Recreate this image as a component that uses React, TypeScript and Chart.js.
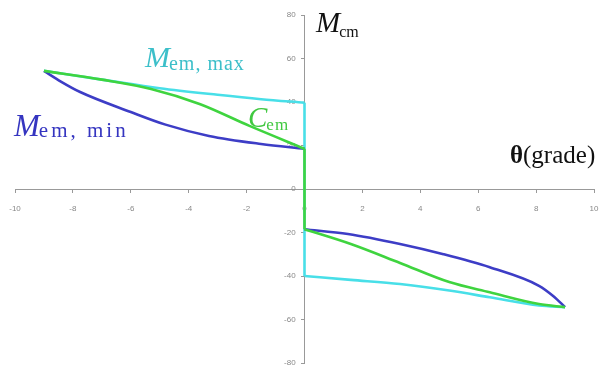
import React, { useEffect, useRef } from "react";
import { Chart, registerables } from "chart.js";

Chart.register(...registerables);

// x-axis (theta, grade) and y-axis (M_cm) tick ranges
const xTicks = [-10, -8, -6, -4, -2, 0, 2, 4, 6, 8, 10];
const yTicks = [-80, -60, -40, -20, 0, 20, 40, 60, 80];

// M_em,min (blue)
const blueLeftX = [-9, -8.4, -7.75, -6, -4.8, -3.3, -1.5, 0];
const blueLeftY = [54.3, 49.3, 44.6, 35.4, 29.6, 24.4, 20.7, 18.5];
const blueRightX = [0, 1.5, 3.3, 4.8, 6.4, 8.1, 8.6, 9];
const blueRightY = [-18.5, -20.7, -25.3, -30, -36, -44.5, -49.3, -54.3];

// C_em (green)
const greenLeftX = [-9, -7, -5.3, -3.6, -1.9, 0];
const greenLeftY = [54.3, 50.3, 46, 39, 29, 18.5];
const greenMidX = [0, 0];
const greenMidY = [18.5, -18.5];
const greenRightX = [0, 1.6, 3.3, 5, 6.4, 8.1, 9];
const greenRightY = [-18.5, -25.3, -34, -42.8, -47.5, -52.9, -54.3];

// M_em,max (cyan)
const cyanLeftX = [-9, -7, -5, -3, -1.5, 0];
const cyanLeftY = [54.3, 50.3, 46.3, 43.3, 41.3, 39.7];
const cyanMidX = [0, 0];
const cyanMidY = [39.7, -40];
const cyanRightX = [0, 1.6, 3.3, 5, 6.4, 8.1, 9];
const cyanRightY = [-40, -41.8, -43.7, -46.7, -49.8, -53.6, -54.3];

const BLUE = "#3d3dc6";
const GREEN = "#3fd43f";
const CYAN = "#48dfe8";

const pts = (xs: number[], ys: number[]) => xs.map((x, i) => ({ x, y: ys[i] }));

const labelsPlugin = {
  id: "labels",
  afterDatasetsDraw(chart: any) {
    const ctx = chart.ctx as CanvasRenderingContext2D;
    ctx.save();
    ctx.textBaseline = "alphabetic";
    ctx.textAlign = "left";
    const sub = (
      main: string, subTxt: string, x: number, y: number,
      color: string, mainSize: number, subSize: number, subDy: number, spacing: number
    ) => {
      ctx.fillStyle = color;
      (ctx as any).letterSpacing = "0px";
      ctx.font = `italic ${mainSize}px "Liberation Serif", serif`;
      ctx.fillText(main, x, y);
      const w = ctx.measureText(main).width;
      ctx.font = `${subSize}px "Liberation Serif", serif`;
      (ctx as any).letterSpacing = `${spacing}px`;
      ctx.fillText(subTxt, x + w - 1, y + subDy);
      (ctx as any).letterSpacing = "0px";
    };
    sub("M", "cm", 316, 32, "#111", 29, 16, 5, 0);
    sub("M", "em, max", 145, 67, "#3cbfc9", 30, 20, 3, 1);
    sub("M", "em, min", 14, 136, "#3535c0", 31, 21, 1, 3);
    sub("C", "em", 248, 127, "#40c840", 29, 17, 3, 1);
    ctx.fillStyle = "#111";
    ctx.font = `bold 25px "Liberation Serif", serif`;
    ctx.fillText("θ", 510, 163);
    const tw = ctx.measureText("θ").width;
    ctx.font = `25px "Liberation Serif", serif`;
    ctx.fillText("(grade)", 510 + tw, 163);
    ctx.restore();
  },
};

export default function App() {
  const ref = useRef<HTMLCanvasElement>(null);
  useEffect(() => {
    document.body.style.margin = "0";
    const mk = (data: any, color: string, order: number) => ({
      data,
      borderColor: color,
      backgroundColor: color,
      borderWidth: 2.6,
      pointRadius: 0,
      showLine: true,
      cubicInterpolationMode: "monotone",
      fill: false,
      order,
    });
    const noPad = (s: any) => {
      s.paddingLeft = 0;
      s.paddingRight = 0;
      s.paddingTop = 0;
      s.paddingBottom = 0;
    };
    const chart = new Chart(ref.current as HTMLCanvasElement, {
      type: "scatter",
      data: {
        datasets: [
          mk(pts(greenLeftX, greenLeftY), GREEN, 0),
          mk(pts(greenMidX, greenMidY), GREEN, 0),
          mk(pts(greenRightX, greenRightY), GREEN, 0),
          mk(pts(blueLeftX, blueLeftY), BLUE, 1),
          mk(pts(blueRightX, blueRightY), BLUE, 1),
          mk(pts(cyanLeftX, cyanLeftY), CYAN, 2),
          mk(pts(cyanMidX, cyanMidY), CYAN, 2),
          mk(pts(cyanRightX, cyanRightY), CYAN, 2),
        ],
      },
      options: {
        animation: false,
        responsive: false,
        maintainAspectRatio: false,
        layout: { padding: { left: 15, right: 5, top: 15, bottom: 4 } },
        plugins: { legend: { display: false }, tooltip: { enabled: false } },
        scales: {
          x: {
            type: "linear",
            position: { y: 0 } as any,
            min: xTicks[0],
            max: xTicks[xTicks.length - 1],
            afterBuildTicks: (s: any) => { s.ticks = xTicks.map((v) => ({ value: v })); },
            afterFit: noPad,
            grid: { drawOnChartArea: false, drawTicks: true, tickLength: 3, color: "#999" },
            border: { color: "#999", width: 1 },
            ticks: { color: "#888", font: { size: 8 }, padding: 12, maxRotation: 0 },
          },
          y: {
            type: "linear",
            position: { x: 0 } as any,
            min: yTicks[0],
            max: yTicks[yTicks.length - 1],
            afterBuildTicks: (s: any) => { s.ticks = yTicks.map((v) => ({ value: v })); },
            afterFit: noPad,
            grid: { drawOnChartArea: false, drawTicks: true, tickLength: 3, color: "#999" },
            border: { color: "#999", width: 1 },
            ticks: { color: "#888", font: { size: 8 }, callback: (v: any) => `${v}    ` },
          },
        },
      },
      plugins: [labelsPlugin],
    } as any);
    return () => chart.destroy();
  }, []);
  return (
    <div style={{ position: "absolute", left: 0, top: 0, width: 599, height: 367, background: "#fff" }}>
      <canvas ref={ref} width={599} height={367} style={{ width: 599, height: 367 }} />
    </div>
  );
}
